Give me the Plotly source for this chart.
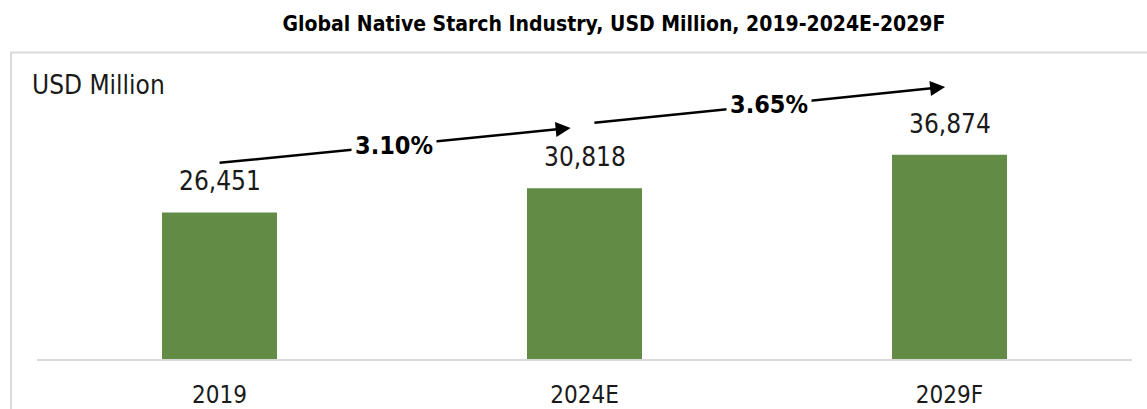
import plotly.graph_objects as go

# Market size by year (USD Million)
years = ["2019", "2024E", "2029F"]
market_size = [26451, 30818, 36874]
cagr_labels = ["3.10%", "3.65%"]

BAR_COLOR = "#628b45"
GRID_GRAY = "#d9d9d9"
FONT = "DejaVu Sans Condensed, Liberation Sans Narrow, Arial Narrow, sans-serif"

W, H = 1147, 409
L, R, T, B = 37, 15, 55, 50
Y_MAX = 54870

fig = go.Figure()
fig.add_trace(go.Bar(
    x=years,
    y=market_size,
    width=0.315,
    marker=dict(color=BAR_COLOR, line=dict(width=0)),
    hoverinfo="skip",
))

annotations = []

# value labels above each bar
for i, v in enumerate(market_size):
    annotations.append(dict(
        x=i, y=v, xref="x", yref="y",
        text=f"{v:,}", showarrow=False,
        yanchor="bottom", yshift=14,
        font=dict(family=FONT, size=26, color="#1a1a1a"),
    ))

# growth arrows between consecutive periods (tail -> head, data coordinates)
arrow_paths = [
    ((-0.004, 35380), (0.962, 41700)),
    ((1.023, 42600), (1.988, 49100)),
]
for (tail, head), label in zip(arrow_paths, cagr_labels):
    annotations.append(dict(
        x=head[0], y=head[1], xref="x", yref="y",
        ax=tail[0], ay=tail[1], axref="x", ayref="y",
        text="", showarrow=True,
        arrowhead=2, arrowsize=1.2, arrowwidth=2.5, arrowcolor="#000000",
        standoff=0, startstandoff=0,
    ))
    annotations.append(dict(
        x=(tail[0] + head[0]) / 2, y=(tail[1] + head[1]) / 2,
        xref="x", yref="y",
        text=f"<b>{label}</b>", showarrow=False,
        bgcolor="#ffffff", borderpad=3,
        font=dict(family=FONT, size=25, color="#000000"),
    ))

# unit label in the top-left corner
annotations.append(dict(
    x=-0.0064, y=0.901, xref="paper", yref="paper",
    xanchor="left", yanchor="middle",
    text="USD Million", showarrow=False,
    font=dict(family=FONT, size=26, color="#1a1a1a"),
))

fig.update_layout(
    width=W, height=H,
    margin=dict(l=L, r=R, t=T, b=B, autoexpand=False),
    paper_bgcolor="#ffffff",
    plot_bgcolor="#ffffff",
    showlegend=False,
    title=dict(
        text="<b>Global Native Starch Industry, USD Million, 2019-2024E-2029F</b>",
        x=0.5353, y=0.941, xanchor="center", yanchor="middle",
        xref="container", yref="container",
        font=dict(family=FONT, size=21, color="#000000"),
    ),
    annotations=annotations,
    shapes=[dict(
        type="rect", xref="paper", yref="paper",
        x0=-0.0237, x1=1.05, y0=-0.5, y1=1.008,
        line=dict(color=GRID_GRAY, width=2),
        fillcolor="rgba(0,0,0,0)", layer="below",
    )],
    xaxis=dict(
        type="category",
        range=[-0.5, 2.5],
        automargin=False,
        showline=True, linecolor=GRID_GRAY, linewidth=2,
        showgrid=False, zeroline=False,
        ticks="", ticklabelstandoff=13,
        tickfont=dict(family=FONT, size=24, color="#1a1a1a"),
    ),
    yaxis=dict(
        range=[0, Y_MAX],
        automargin=False,
        visible=False, showgrid=False, zeroline=False,
    ),
)

fig.write_html("out.html")
